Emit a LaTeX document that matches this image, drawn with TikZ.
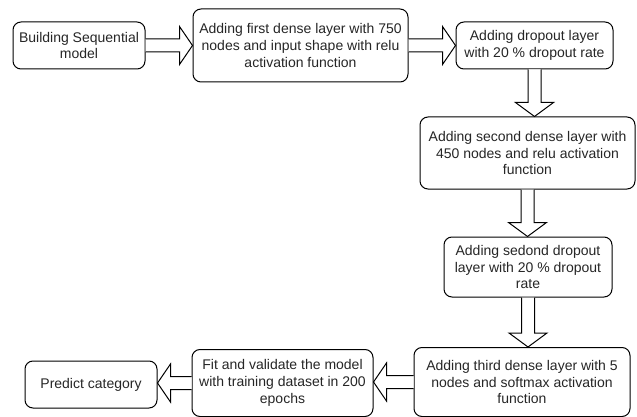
\documentclass[tikz,border=0pt]{standalone}
\usepackage{fontspec}
\setmainfont{Liberation Sans}
\usetikzlibrary{calc}

\tikzset{
  stepbox/.style={draw=black, line width=1pt, rounded corners=8pt, fill=white,
    rectangle, inner sep=0pt, align=center, text=black!85,
    font=\fontsize{14}{16.8}\selectfont},
  fatarrow/.style={draw=black, line width=1pt, fill=white, line join=miter}
}

% block arrows: shaft half width 6.5, head half width 19, head length 13
\newcommand\fatright[2]{%
  \draw[fatarrow] ($(#1.east)+(0,-6.5)$) -- ($(#1.east -| #2.west)+(-13,-6.5)$)
    -- ($(#1.east -| #2.west)+(-13,-19)$) -- (#1.east -| #2.west)
    -- ($(#1.east -| #2.west)+(-13,19)$) -- ($(#1.east -| #2.west)+(-13,6.5)$)
    -- ($(#1.east)+(0,6.5)$);}
\newcommand\fatleft[2]{%
  \draw[fatarrow] ($(#1.west)+(0,-6.5)$) -- ($(#1.west -| #2.east)+(13,-6.5)$)
    -- ($(#1.west -| #2.east)+(13,-19)$) -- (#1.west -| #2.east)
    -- ($(#1.west -| #2.east)+(13,19)$) -- ($(#1.west -| #2.east)+(13,6.5)$)
    -- ($(#1.west)+(0,6.5)$);}
\newcommand\fatdown[2]{%
  \draw[fatarrow] ($(#1.south)+(-6.5,0)$) -- ($(#1.south |- #2.north)+(-6.5,-14)$)
    -- ($(#1.south |- #2.north)+(-19,-14)$) -- (#1.south |- #2.north)
    -- ($(#1.south |- #2.north)+(19,-14)$) -- ($(#1.south |- #2.north)+(6.5,-14)$)
    -- ($(#1.south)+(6.5,0)$);}

\begin{document}
\begin{tikzpicture}[x=1pt, y=-1pt]
  \useasboundingbox (0,0) rectangle (637,417);

  \node[stepbox, minimum width=132, minimum height=47] (build) at (79,45.5)
    {Building Sequential\\model};
  \node[stepbox, minimum width=215, minimum height=73] (dense1) at (300.5,45.5)
    {Adding first dense layer with 750\\nodes and input shape with relu\\activation function};
  \node[stepbox, minimum width=157, minimum height=47] (drop1) at (534.5,45.5)
    {Adding dropout layer\\with 20 \% dropout rate};
  \node[stepbox, minimum width=215, minimum height=72] (dense2) at (527.5,153)
    {Adding second dense layer with\\450 nodes and relu activation\\function};
  \node[stepbox, minimum width=168, minimum height=60] (drop2) at (528,267)
    {Adding sedond dropout\\layer with 20 \% dropout\\rate};
  \node[stepbox, minimum width=216, minimum height=69] (dense3) at (522,382)
    {Adding third dense layer with 5\\nodes and softmax activation\\function};
  \node[stepbox, minimum width=181, minimum height=67] (fit) at (282.5,383)
    {Fit and validate the model\\with training dataset in 200\\epochs};
  \node[stepbox, minimum width=132, minimum height=47] (predict) at (91,384.5)
    {Predict category};

  \fatright{build}{dense1}
  \fatright{dense1}{drop1}
  \fatdown{drop1}{dense2}
  \fatdown{dense2}{drop2}
  \fatdown{drop2}{dense3}
  \fatleft{dense3}{fit}
  \fatleft{fit}{predict}
\end{tikzpicture}
\end{document}
